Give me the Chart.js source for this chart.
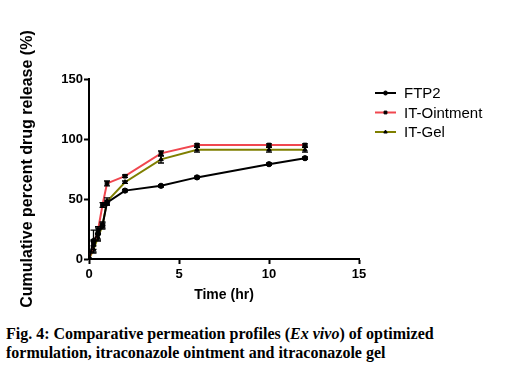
<!DOCTYPE html>
<html lang="en">
<head>
    <meta charset="UTF-8">
    <title>Comparative permeation profiles</title>
    <style>
        body {
            margin: 0;
            background: #fff;
            width: 512px;
            height: 375px;
            overflow: hidden;
        }

        #wrap {
            position: relative;
            width: 512px;
            height: 310px;
        }

        .caption {
            font-family: "Liberation Serif", "Times New Roman", serif;
            font-weight: bold;
            font-size: 16px;
            line-height: 19px;
            color: #000;
            margin: 14px 0 0 6px;
        }
    </style>
    <script src="https://cdn.jsdelivr.net/npm/chart.js"></script>
</head>
<body>
    <div id="wrap"><canvas id="releaseChart" width="512" height="310"></canvas></div>
    <div class="caption">Fig. 4: Comparative permeation profiles (<i>Ex vivo</i>) of optimized<br>formulation, itraconazole ointment and itraconazole gel</div>

    <script>
        // time points (hr)
        const timePoints = [0, 0.25, 0.5, 0.75, 1, 2, 4, 6, 10, 12];

        // cumulative release (%)
        const ftp2 = [0, 15, 21, 28, 47, 57, 61, 68, 79, 84];
        const ointment = [0, 12, 24, 45, 63, 69, 88, 95, 95, 95];
        const gel = [0, 8, 18, 28, 48, 64, 83, 91, 91, 91];

        // standard deviations (error bars)
        const ftp2Err = [0, 9, 5, 3, 2, 1, 1, 1, 1, 1];
        const ointmentErr = [0, 4, 3, 2, 2, 1, 2, 1, 1, 1];
        const gelErr = [0, 3, 3, 2, 3, 1, 3, 2, 2, 2];

        const seriesNames = ['FTP2', 'IT-Ointment', 'IT-Gel'];
        const seriesColors = ['#000000', '#f0474f', '#7f7f00'];
        const markerStyles = ['circle', 'rect', 'triangle'];

        const yTicks = [0, 50, 100, 150];
        const xTicks = [0, 5, 10, 15];

        function toPoints(values) {
            return values.map((v, i) => ({ x: timePoints[i], y: v }));
        }

        const allValues = [ftp2, ointment, gel];
        const allErrors = [ftp2Err, ointmentErr, gelErr];

        const datasets = allValues.map((vals, i) => ({
            label: seriesNames[i],
            data: toPoints(vals),
            errors: allErrors[i],
            borderColor: seriesColors[i],
            backgroundColor: '#000',
            pointBackgroundColor: '#000',
            pointBorderColor: '#000',
            pointBorderWidth: 1,
            pointStyle: markerStyles[i],
            pointRadius: 2.6,
            borderWidth: 2,
            tension: 0,
            fill: false
        }));

        // vertical error bars with caps
        const errorBars = {
            id: 'errorBars',
            afterDatasetsDraw(chart) {
                const ctx = chart.ctx;
                const y = chart.scales.y;
                ctx.save();
                chart.data.datasets.forEach((ds, di) => {
                    const meta = chart.getDatasetMeta(di);
                    ctx.strokeStyle = '#000';
                    ctx.lineWidth = 1.3;
                    meta.data.forEach((pt, i) => {
                        const e = ds.errors[i];
                        if (!e) return;
                        const v = ds.data[i].y;
                        const top = y.getPixelForValue(v + e);
                        const bot = y.getPixelForValue(v - e);
                        ctx.beginPath();
                        ctx.moveTo(pt.x, top);
                        ctx.lineTo(pt.x, bot);
                        ctx.moveTo(pt.x - 3, top);
                        ctx.lineTo(pt.x + 3, top);
                        ctx.moveTo(pt.x - 3, bot);
                        ctx.lineTo(pt.x + 3, bot);
                        ctx.stroke();
                    });
                });
                ctx.restore();
            }
        };

        // legend to the right: short line with marker, then label
        const sideLegend = {
            id: 'sideLegend',
            afterDraw(chart) {
                const ctx = chart.ctx;
                const left = chart.chartArea.right + 16;
                let top = chart.chartArea.top + 14;
                ctx.save();
                ctx.font = '15px Arial, "Liberation Sans", sans-serif';
                ctx.textBaseline = 'middle';
                chart.data.datasets.forEach((ds) => {
                    ctx.strokeStyle = ds.borderColor;
                    ctx.lineWidth = 2;
                    ctx.beginPath();
                    ctx.moveTo(left, top);
                    ctx.lineTo(left + 21, top);
                    ctx.stroke();
                    ctx.fillStyle = '#000';
                    ctx.strokeStyle = '#000';
                    ctx.lineWidth = 1;
                    Chart.helpers.drawPoint(ctx, {
                        pointStyle: ds.pointStyle,
                        radius: 2,
                        rotation: 0,
                        borderWidth: 1
                    }, left + 10.5, top);
                    ctx.fillText(ds.label, left + 29, top + 1);
                    top += 19.5;
                });
                ctx.restore();
            }
        };

        const tickFont = { family: 'Arial, "Liberation Sans", sans-serif', size: 13, weight: 'bold' };

        new Chart(document.getElementById('releaseChart').getContext('2d'), {
            type: 'line',
            data: { datasets: datasets },
            plugins: [errorBars, sideLegend],
            options: {
                responsive: false,
                animation: false,
                layout: { padding: { top: 79, right: 153, left: 18, bottom: 2 } },
                plugins: {
                    legend: { display: false },
                    tooltip: { enabled: false }
                },
                scales: {
                    x: {
                        type: 'linear',
                        min: 0,
                        max: 15,
                        afterBuildTicks: (s) => { s.ticks = xTicks.map(v => ({ value: v })); },
                        afterFit: (s) => { s.height = 49; },
                        grid: { drawOnChartArea: false, color: '#000', tickLength: 5, tickWidth: 2 },
                        border: { color: '#000', width: 2 },
                        ticks: { color: '#000', font: tickFont, padding: 3, maxRotation: 0 },
                        title: {
                            display: true, text: 'Time (hr)', color: '#000', padding: { top: 0, bottom: 4 },
                            font: { family: 'Arial, "Liberation Sans", sans-serif', size: 14, weight: 'bold' }
                        }
                    },
                    y: {
                        min: 0,
                        max: 150,
                        afterBuildTicks: (s) => { s.ticks = yTicks.map(v => ({ value: v })); },
                        afterFit: (s) => { s.width = 71; },
                        grid: { drawOnChartArea: false, color: '#000', tickLength: 5, tickWidth: 2 },
                        border: { color: '#000', width: 2 },
                        ticks: { color: '#000', font: tickFont, padding: 1 },
                        title: {
                            display: true, text: 'Cumulative percent drug release (%)', color: '#000', padding: { top: 0, bottom: 6 },
                            font: { family: 'Arial, "Liberation Sans", sans-serif', size: 16, weight: 'bold' }
                        }
                    }
                }
            }
        });
    </script>
</body>
</html>
